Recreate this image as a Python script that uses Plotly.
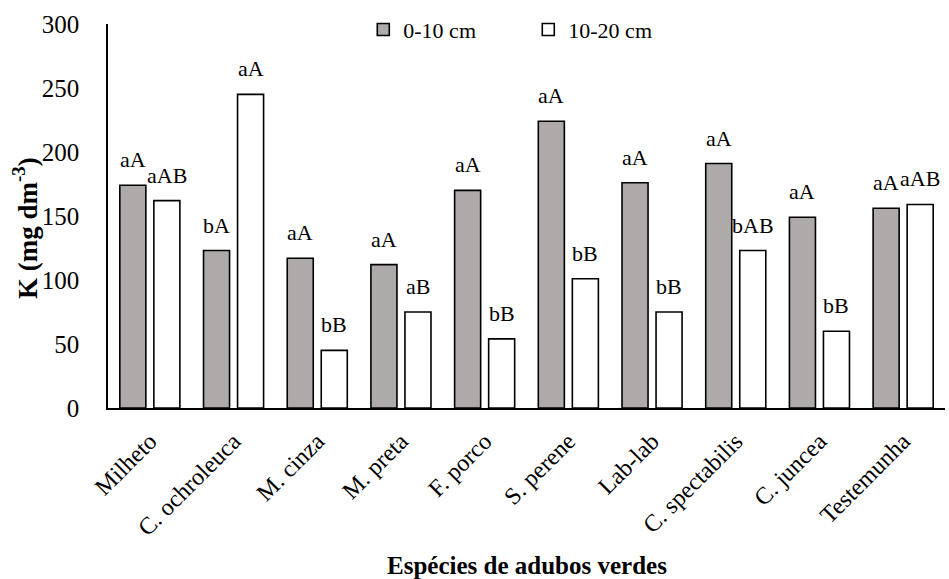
import plotly.graph_objects as go

# Potassium content by green-manure species at two soil depths
species = ["Milheto", "C. ochroleuca", "M. cinza", "M. preta", "F. porco",
           "S. perene", "Lab-lab", "C. spectabilis", "C. juncea", "Testemunha"]
k_0_10 = [174, 123, 117, 112, 170, 224, 176, 191, 149, 156]
k_10_20 = [162, 245, 45, 75, 54, 101, 75, 123, 60, 159]
letters_0_10 = ["aA", "bA", "aA", "aA", "aA", "aA", "aA", "aA", "aA", "aA"]
letters_10_20 = ["aAB", "aA", "bB", "aB", "bB", "bB", "bB", "bAB", "bB", "aAB"]
y_ticks = [0, 50, 100, 150, 200, 250, 300]

FONT = "Liberation Serif"
GRAY = "#AEAAAA"

fig = go.Figure()
fig.add_trace(go.Bar(x=species, y=k_0_10, name="0-10 cm",
                     marker=dict(color=GRAY, line=dict(color="black", width=1.6))))
fig.add_trace(go.Bar(x=species, y=k_10_20, name="10-20 cm",
                     marker=dict(color="white", line=dict(color="black", width=1.6))))

# significance letters above each bar
annotations = []
for sp, v, t in zip(species, k_0_10, letters_0_10):
    annotations.append(dict(x=sp, y=v, text=t, xref="x", yref="y", showarrow=False,
                            xshift=-17, yshift=11, yanchor="bottom",
                            font=dict(family=FONT, size=22, color="black")))
for sp, v, t in zip(species, k_10_20, letters_10_20):
    annotations.append(dict(x=sp, y=v, text=t, xref="x", yref="y", showarrow=False,
                            xshift=17, yshift=11, yanchor="bottom",
                            font=dict(family=FONT, size=22, color="black")))

annotations.append(dict(text="<b>Espécies de adubos verdes</b>", xref="paper", yref="paper",
                        x=0.5, y=-0.411, showarrow=False, xanchor="center", yanchor="middle",
                        font=dict(family=FONT, size=25, color="black")))
annotations.append(dict(text="<b>K (mg dm<sup>-3</sup>)</b>", xref="paper", yref="paper",
                        x=-0.099, y=0.469, showarrow=False, textangle=-90,
                        xanchor="center", yanchor="middle",
                        font=dict(family=FONT, size=27, color="black")))

fig.update_layout(
    width=949, height=579,
    margin=dict(l=108, r=4, t=24, b=171),
    paper_bgcolor="white", plot_bgcolor="white",
    barmode="group", bargap=0.187, bargroupgap=0.235,
    font=dict(family=FONT, size=20, color="black"),
    showlegend=True,
    legend=dict(orientation="h", x=0.305, y=0.985, xanchor="left", yanchor="middle",
                font=dict(family=FONT, size=22, color="black"),
                itemwidth=30, entrywidth=120, entrywidthmode="pixels",
                bgcolor="rgba(0,0,0,0)"),
    annotations=annotations,
    xaxis=dict(showline=True, linecolor="black", linewidth=1.6, showgrid=False,
               tickangle=-45, ticks="", tickfont=dict(family=FONT, size=24),
               ticklabelstandoff=8),
    yaxis=dict(range=[0, 300], tickvals=y_ticks, showline=True, linecolor="black",
               linewidth=1.6, showgrid=False, zeroline=False, ticks="",
               tickfont=dict(family=FONT, size=25), ticklabelstandoff=22),
)

fig.write_html("out.html")
